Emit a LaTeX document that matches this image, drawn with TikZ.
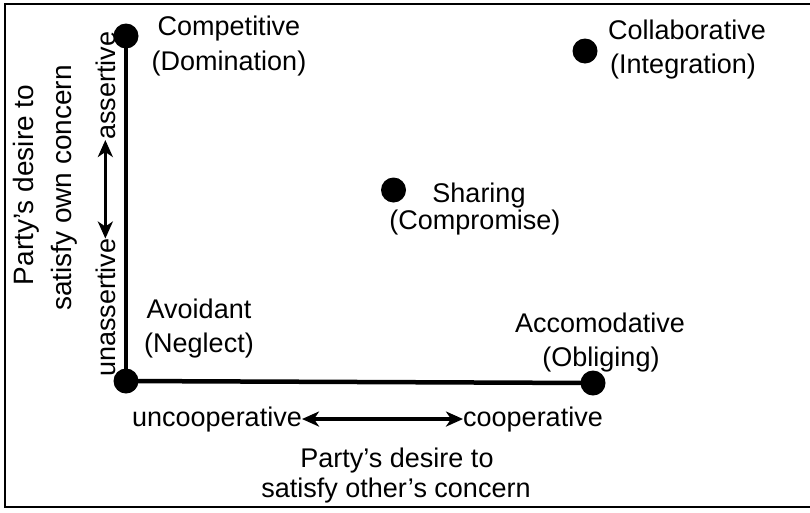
\documentclass[tikz,border=0pt]{standalone}
\usepackage{fontspec}
\setmainfont{Liberation Sans}
\usetikzlibrary{arrows.meta}
\begin{document}
\begin{tikzpicture}[x=1pt,y=-1pt,
  lbl/.style={inner sep=0pt,anchor=base,font=\fontsize{27}{32}\selectfont},
  vlbl/.style={inner sep=0pt,anchor=base,rotate=90,font=\fontsize{28}{32}\selectfont},
  dot/.style={circle,fill=black,draw=none,minimum size=25pt,inner sep=0pt},
  axis/.style={line width=4.5pt},
  tip/.tip={Stealth[length=17pt,width=15pt,inset=5pt]},
  dblarrow/.style={line width=3.6pt,arrows={tip-tip}},
  frame/.style={line width=1.8pt}
]
\useasboundingbox (0,0) rectangle (810,512);
% frame
\coordinate (f1) at (810,4);
\coordinate (f2) at (5,4);
\coordinate (f3) at (5,507);
\coordinate (f4) at (810,507);
\draw[frame] (f1) -- (f2) -- (f3) -- (f4);

% dots
\node[dot] (domdot) at (126,36) {};
\node[dot] (negdot) at (126,381) {};
\node[dot] (oblidot) at (593,383) {};
\node[dot] (compdot) at (393.5,190) {};
\node[dot] (intdot) at (585,51) {};

% axes
\draw[axis] (domdot.center) -- (negdot.center);
\draw[axis] (negdot.center) -- (oblidot.center);

% labels
\node[lbl] (comp1) at (229,35) {Competitive};
\node[lbl] (comp2) at (229,70) {(Domination)};
\node[lbl] (coll1) at (687,39) {Collaborative};
\node[lbl] (coll2) at (683,73) {(Integration)};
\node[lbl] (shar1) at (479,202) {Sharing};
\node[lbl] (shar2) at (475,229) {(Compromise)};
\node[lbl] (avoi1) at (199,318) {Avoidant};
\node[lbl] (avoi2) at (199,352) {(Neglect)};
\node[lbl] (acco1) at (600,332) {Accomodative};
\node[lbl] (acco2) at (601,366) {(Obliging)};

% horizontal scale
\node[lbl,anchor=base east] (uncoop) at (302,426) {uncooperative};
\node[lbl,anchor=base west] (coop) at (463,426) {cooperative};
\draw[dblarrow] (uncoop.east) -- (coop.west);
\node[lbl] (xl1) at (397,467) {Party’s desire to};
\node[lbl] (xl2) at (396,497) {satisfy other’s concern};

% vertical scale
\node[lbl,rotate=90,anchor=base west] (unass) at (115,377) {unassertive};
\node[lbl,rotate=90,anchor=base west] (ass) at (115,140) {assertive};
\draw[dblarrow] (unass.east) -- (ass.west);
\node[vlbl] (yl1) at (33,185) {Party’s desire to};
\node[vlbl] (yl2) at (71,188) {satisfy own concern};
\end{tikzpicture}
\end{document}
